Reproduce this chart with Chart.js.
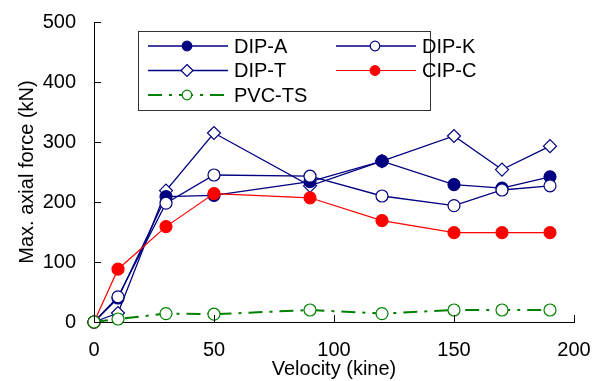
<!DOCTYPE html>
<html>
<head>
<meta charset="utf-8">
<script src="https://cdn.jsdelivr.net/npm/chart.js@4/dist/chart.umd.min.js"></script>
<style>
  html, body { margin: 0; padding: 0; background: #fff; }
  canvas { display: block; }
</style>
</head>
<body>
<canvas id="forceChart" width="605" height="381"></canvas>
<script>
const velocity = [0, 10, 30, 50, 90, 120, 150, 170, 190];
const dipA = [0, 40, 209, 211, 234, 268, 229, 223, 242];
const dipK = [0, 42, 198, 245, 243, 210, 194, 220, 227];
const dipT = [0, 15, 219, 315, 227, 268, 310, 254, 293];
const cipC = [0, 88, 159, 214, 207, 169, 149, 149, 149];
const pvcTs = [0, 5, 14, 13, 20, 14, 20, 20, 20];
const xTicks = [0, 50, 100, 150, 200];
const yTicks = [0, 100, 200, 300, 400, 500];

const FONT = "'Liberation Sans', Arial, sans-serif";
const NAVY = '#000080';

const pts = (arr) => arr.map((v, i) => ({ x: velocity[i], y: v }));

// ticks pointing into the plot, like the original figure
const inwardTicks = {
    id: 'inwardTicks',
    afterDatasetsDraw(chart) {
        const ctx = chart.ctx;
        const x = chart.scales.x, y = chart.scales.y;
        ctx.save();
        ctx.strokeStyle = '#000';
        ctx.lineWidth = 1;
        ctx.beginPath();
        xTicks.forEach(v => {
            const px = Math.round(x.getPixelForValue(v)) + 0.5;
            ctx.moveTo(px, y.bottom);
            ctx.lineTo(px, y.bottom - 7);
        });
        yTicks.forEach(v => {
            const py = Math.round(y.getPixelForValue(v)) + 0.5;
            ctx.moveTo(x.left, py);
            ctx.lineTo(x.left + 7, py);
        });
        ctx.stroke();
        ctx.restore();
    }
};

const boxLegend = {
    id: 'boxLegend',
    afterDraw(chart) {
        const ctx = chart.ctx;
        ctx.save();
        ctx.fillStyle = '#fff';
        ctx.fillRect(138.5, 31.5, 292, 79);
        ctx.strokeStyle = '#333';
        ctx.lineWidth = 1;
        ctx.strokeRect(138.5, 31.5, 292, 79);
        ctx.font = '20px ' + FONT;
        ctx.textBaseline = 'middle';
        chart.data.datasets.forEach((ds, i) => {
            const col = i % 2, row = Math.floor(i / 2);
            const x0 = 148 + col * 188;
            const yy = 46 + row * 24.5;
            ctx.strokeStyle = ds.borderColor;
            ctx.lineWidth = ds.borderWidth;
            ctx.setLineDash(ds.borderDash || []);
            ctx.beginPath();
            ctx.moveTo(x0, yy);
            ctx.lineTo(x0 + 80, yy);
            ctx.stroke();
            ctx.setLineDash([]);
            const mx = x0 + 39;
            ctx.fillStyle = ds.pointBackgroundColor;
            ctx.strokeStyle = ds.pointBorderColor;
            ctx.lineWidth = 1.2;
            ctx.beginPath();
            if (ds.pointStyle === 'rectRot') {
                ctx.moveTo(mx, yy - 6);
                ctx.lineTo(mx + 6, yy);
                ctx.lineTo(mx, yy + 6);
                ctx.lineTo(mx - 6, yy);
                ctx.closePath();
            } else {
                ctx.arc(mx, yy, 4.8, 0, Math.PI * 2);
            }
            ctx.fill();
            ctx.stroke();
            ctx.fillStyle = '#000';
            ctx.fillText(ds.label, x0 + 86, yy + 1);
        });
        ctx.restore();
    }
};

function series(label, data, color, fill, style, width, order, dash) {
    return {
        label: label,
        data: pts(data),
        borderColor: color,
        borderWidth: width,
        borderDash: dash,
        pointStyle: style,
        pointRadius: style === 'rectRot' ? 6.5 : 6,
        pointBackgroundColor: fill,
        pointBorderColor: color,
        pointBorderWidth: 1.2,
        tension: 0,
        clip: false,
        order: order
    };
}

const ctx = document.getElementById('forceChart').getContext('2d');
new Chart(ctx, {
    type: 'line',
    data: {
        datasets: [
            series('DIP-A', dipA, NAVY, NAVY, 'circle', 1.3, 4),
            series('DIP-K', dipK, NAVY, '#fff', 'circle', 1.3, 3),
            series('DIP-T', dipT, NAVY, '#fff', 'rectRot', 1.3, 5),
            series('CIP-C', cipC, '#ff0000', '#ff0000', 'circle', 1.2, 2),
            series('PVC-TS', pvcTs, '#008000', '#fff', 'circle', 2, 1, [14, 7, 3, 7])
        ]
    },
    options: {
        responsive: false,
        animation: false,
        devicePixelRatio: 1,
        layout: { padding: { left: 15, top: 22, right: 31, bottom: 0 } },
        plugins: { legend: { display: false }, tooltip: { enabled: false } },
        scales: {
            x: {
                type: 'linear',
                min: 0, max: 200,
                afterFit: (s) => { s.height = 59; },
                afterBuildTicks: (s) => { s.ticks = xTicks.map(v => ({ value: v })); },
                grid: { display: false },
                border: { display: true, color: '#000', width: 1 },
                ticks: { color: '#000', font: { family: FONT, size: 20 }, padding: 8, maxRotation: 0, autoSkip: false },
                title: { display: true, text: 'Velocity (kine)', color: '#000', font: { family: FONT, size: 20 }, padding: 0 }
            },
            y: {
                type: 'linear',
                min: 0, max: 500,
                afterFit: (s) => { s.width = 79; },
                afterBuildTicks: (s) => { s.ticks = yTicks.map(v => ({ value: v })); },
                grid: { display: false },
                border: { display: true, color: '#000', width: 1 },
                ticks: { color: '#000', font: { family: FONT, size: 20 }, padding: 10 },
                title: { display: true, text: 'Max. axial force (kN)', color: '#000', font: { family: FONT, size: 20 }, padding: 0 }
            }
        }
    },
    plugins: [inwardTicks, boxLegend]
});
</script>
</body>
</html>
